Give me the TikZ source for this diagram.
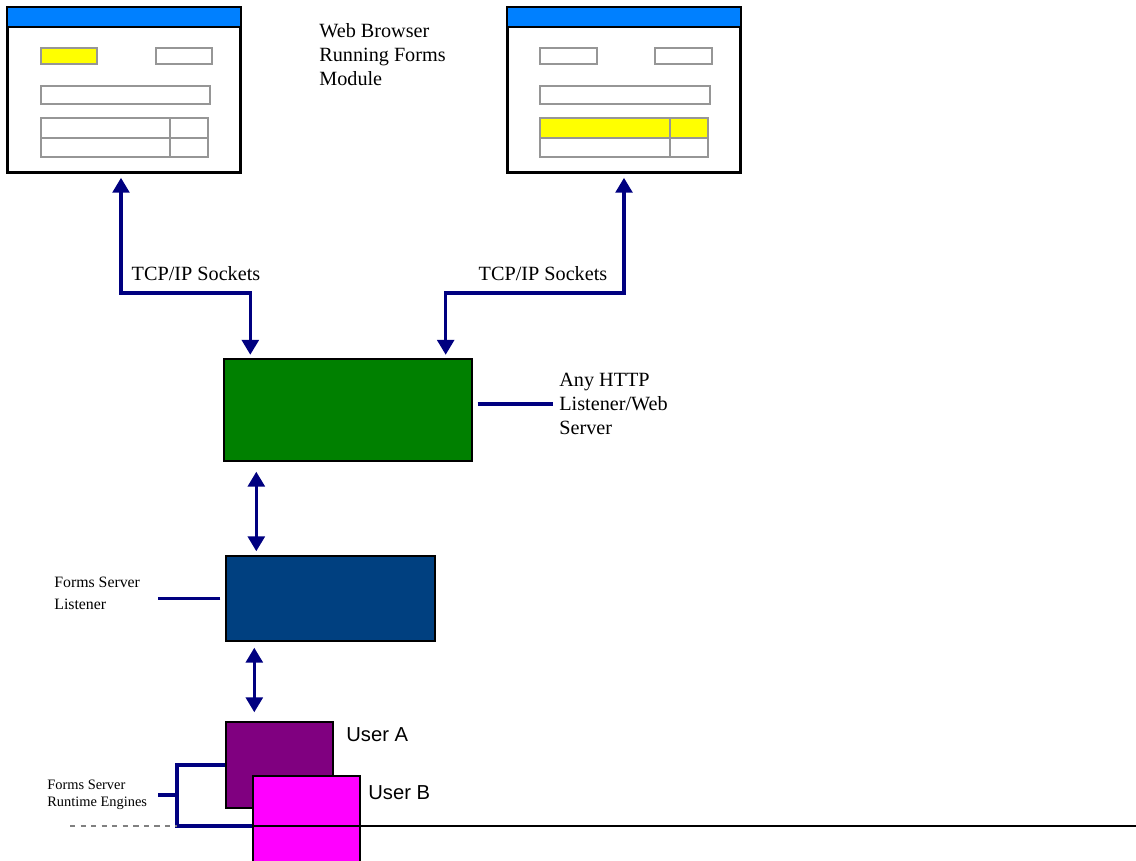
\documentclass[tikz,border=0pt]{standalone}
\usepackage{fontspec}
\setmainfont{Liberation Serif}
\newfontfamily\userfont{Liberation Sans}
\usetikzlibrary{arrows.meta}

\definecolor{navylink}{RGB}{0,0,128}
\definecolor{barblue}{RGB}{0,128,255}
\definecolor{fieldgray}{RGB}{150,150,150}
\definecolor{formyellow}{RGB}{255,255,0}
\definecolor{webgreen}{RGB}{0,128,0}
\definecolor{lsnblue}{RGB}{0,64,128}
\definecolor{userpurple}{RGB}{128,0,128}
\definecolor{usermagenta}{RGB}{255,0,255}

\begin{document}
\begin{tikzpicture}[x=0.02cm, y=-0.02cm,
  window/.style={rectangle, draw=black, line width=0.9pt, fill=white, minimum width=4.64cm, minimum height=3.28cm, inner sep=0pt},
  field/.style={rectangle, draw=fieldgray, line width=1.1pt, fill=white, inner sep=0pt, minimum height=0.32cm},
  cell/.style={field, minimum height=0.39cm},
  server/.style={rectangle, draw=black, line width=0.8pt, inner sep=0pt},
  dlink/.style={navylink, line width=2pt, {Triangle[width=9.5pt,length=8.5pt]}-{Triangle[width=9.5pt,length=8.5pt]}},
  tag/.style={navylink, line width=2pt},
  note/.style={font=\fontsize{11.5}{13.6}\selectfont, align=left, inner sep=0pt},
  smallnote/.style={font=\fontsize{9}{12.4}\selectfont, align=left, inner sep=0pt},
  tinynote/.style={font=\fontsize{8.2}{9.6}\selectfont, align=left, inner sep=0pt},
  usernote/.style={font=\userfont\fontsize{11.5}{14}\selectfont, inner sep=0pt}]

\useasboundingbox (0,0) rectangle (1136,861);

%% NAVEGADOR 1
\node[window] (br1) at (124,90) {};
\fill[barblue] (br1.north west) rectangle ([yshift=-0.4cm]br1.north east);
\draw[line width=0.9pt] ([yshift=-0.4cm]br1.north west) -- ([yshift=-0.4cm]br1.north east);
\draw[line width=0.9pt] (br1.north west) rectangle (br1.south east);

% Campos
\node[field, fill=formyellow, minimum width=1.12cm] (br1f1) at (69,56) {};
\node[field, minimum width=1.12cm] (br1f2) at (184,56) {};
\node[field, minimum width=3.38cm, minimum height=0.36cm] (br1f3) at (125.5,95) {};

% Tabla
\node[cell, minimum width=2.58cm] (br1c1) at (105.5,128) {};
\node[cell, minimum width=0.76cm] (br1c2) at (189,128) {};
\node[cell, minimum width=2.58cm] (br1c3) at (105.5,147.5) {};
\node[cell, minimum width=0.76cm] (br1c4) at (189,147.5) {};

%% NAVEGADOR 2
\node[window] (br2) at (624,90) {};
\fill[barblue] (br2.north west) rectangle ([yshift=-0.4cm]br2.north east);
\draw[line width=0.9pt] ([yshift=-0.4cm]br2.north west) -- ([yshift=-0.4cm]br2.north east);
\draw[line width=0.9pt] (br2.north west) rectangle (br2.south east);

% Campos
\node[field, minimum width=1.14cm] (br2f1) at (568.5,56) {};
\node[field, minimum width=1.14cm] (br2f2) at (683.5,56) {};
\node[field, minimum width=3.40cm, minimum height=0.36cm] (br2f3) at (625,95) {};

% Tabla
\node[cell, fill=formyellow, minimum width=2.60cm] (br2c1) at (605,128) {};
\node[cell, fill=formyellow, minimum width=0.76cm] (br2c2) at (689,128) {};
\node[cell, minimum width=2.60cm] (br2c3) at (605,147.5) {};
\node[cell, minimum width=0.76cm] (br2c4) at (689,147.5) {};

\node[note, anchor=north west] (brLbl) at (319,23) {Web Browser\\Running Forms\\Module};

%% SERVIDOR WEB
\node[server, fill=webgreen, minimum width=4.96cm, minimum height=2.04cm] (web) at (348,410) {};
\node[note, anchor=west] (webLbl) at (559,404) {Any HTTP\\Listener/Web\\Server};
\draw[tag] ([xshift=0.1cm]web.east |- webLbl.west) -- ([xshift=-0.12cm]webLbl.west);

% Sockets
\coordinate (busL) at (180,293);
\coordinate (busR) at (540,293);
\draw[dlink, shorten <=0.1cm, shorten >=0.07cm] ([xshift=-0.06cm]br1.south) |- (busL) -| ([xshift=0.54cm]web.north west);
\draw[dlink, shorten <=0.1cm, shorten >=0.07cm] (br2.south) |- (busR) -| ([xshift=-0.54cm]web.north east);
\node[note] (tcpL) at (196,274) {TCP/IP Sockets};
\node[note] (tcpR) at (543,274) {TCP/IP Sockets};

%% LISTENER
\node[server, fill=lsnblue, minimum width=4.18cm, minimum height=1.70cm] (lsn) at (330.5,598.5) {};
\node[smallnote, anchor=west] (lsnLbl) at (54,593) {Forms Server\\Listener};
\coordinate (lsnTag) at (158,598);
\draw[tag] ([xshift=-0.1cm]lsn.west) -- (lsnTag |- lsn.west);

\draw[dlink, shorten <=0.2cm, shorten >=0.08cm] ([xshift=0.66cm]web.south west) -- ([xshift=0.66cm]web.south west |- lsn.north);

%% RUNTIME
\node[server, fill=userpurple, minimum width=2.14cm, minimum height=1.72cm] (userA) at (279.5,765) {};
\node[server, fill=usermagenta, minimum width=2.14cm, minimum height=1.72cm] (userB) at (306.5,819) {};
\node[usernote, anchor=west] (userALbl) at (346,735) {User A};
\node[usernote, anchor=west] (userBLbl) at (368,793) {User B};

\draw[dlink, shorten <=0.12cm, shorten >=0.18cm] ([xshift=0.58cm]lsn.south west) -- ([xshift=0.58cm]lsn.south west |- userA.north);

% Llave
\coordinate (brk) at (177,795);
\coordinate (rtTag) at (158,795);
\coordinate (floorL) at (70,826);
\coordinate (floorR) at (1136,826);
\node[tinynote, anchor=west] (rtLbl) at (47,795) {Forms Server\\Runtime Engines};
\draw[tag] (userA.west) -| (brk) |- (userB.west |- floorR);
\draw[tag] (rtTag) -- (brk);

% Linea
\draw[line width=0.8pt] (userB.west |- floorR) -- (floorR);
\draw[line width=0.8pt, dashed, gray] (floorL) -- (brk |- floorL);

\end{tikzpicture}
\end{document}
